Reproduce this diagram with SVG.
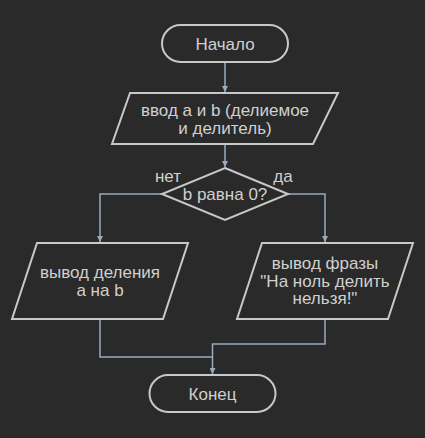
<svg xmlns="http://www.w3.org/2000/svg" width="425" height="438" viewBox="0 0 425 438">
<defs>
<style>
.node{fill:#2a2a2a;stroke:#c8c8c8;stroke-width:2}
.txt{font-family:"Liberation Sans",Arial,sans-serif;font-size:17px;fill:#d0d0d0;text-anchor:middle}
.edge{fill:none;stroke:#9aabbd;stroke-width:1.5}
</style>
<marker id="arr" viewBox="0 0 10 10" refX="10" refY="5" markerWidth="6" markerHeight="6" markerUnits="userSpaceOnUse" orient="auto">
<path d="M0,0 L10,5 L0,10 z" fill="#9aabbd"/>
</marker>
</defs>
<rect width="425" height="438" fill="#2a2a2a"/>
<g id="connectors">
<path class="edge" d="M225,63 V92" marker-end="url(#arr)"/>
<path class="edge" d="M225,144 V167" marker-end="url(#arr)"/>
<path class="edge" d="M162,194 H100 V242" marker-end="url(#arr)"/>
<path class="edge" d="M288,194 H325 V242" marker-end="url(#arr)"/>
<path class="edge" d="M100,320 V357 H212.5"/>
<path class="edge" d="M325,320 V344 H212.5 V374" marker-end="url(#arr)"/>
</g>
<g id="start">
<rect class="node" x="162" y="25" width="126" height="37" rx="18.5"/>
<text class="txt" x="225" y="49.5">Начало</text>
</g>
<g id="input">
<polygon class="node" points="130,93 338,93 313,144 112,144"/>
<text class="txt" x="225" y="116">ввод a и b (делиемое</text>
<text class="txt" x="225" y="134">и делитель)</text>
</g>
<g id="decision">
<polygon class="node" points="225,168 288,194 225,220 162,194"/>
<text class="txt" x="225" y="200">b равна 0?</text>
<text class="txt" x="168" y="182">нет</text>
<text class="txt" x="283" y="182">да</text>
</g>
<g id="out-div">
<polygon class="node" points="37,243 188,243 163,319 12,319"/>
<text class="txt" x="100" y="278">вывод деления</text>
<text class="txt" x="100" y="296">a на b</text>
</g>
<g id="out-msg">
<polygon class="node" points="262,243 413,243 388,319 237,319"/>
<text class="txt" x="325" y="269">вывод фразы</text>
<text class="txt" x="325" y="287">"На ноль делить</text>
<text class="txt" x="325" y="304">нельзя!"</text>
</g>
<g id="end">
<rect class="node" x="149.5" y="375" width="126" height="37" rx="18.5"/>
<text class="txt" x="212.5" y="400">Конец</text>
</g>
</svg>
